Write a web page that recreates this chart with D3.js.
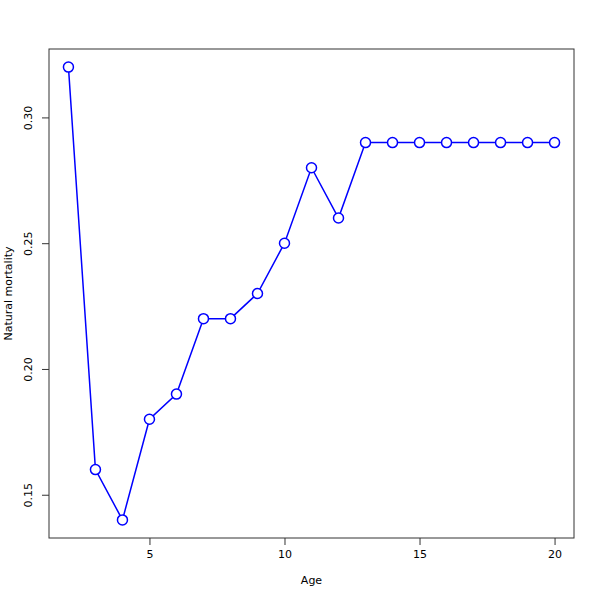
<!DOCTYPE html>
<html><head><meta charset="utf-8">
<script src="https://cdn.jsdelivr.net/npm/d3@7/dist/d3.min.js"></script>
<style>body{margin:0;background:#fff}svg{display:block}text{font-family:"DejaVu Sans",sans-serif;font-size:11px;fill:#000}</style>
</head><body>
<script>
const ages = [2,3,4,5,6,7,8,9,10,11,12,13,14,15,16,17,18,19,20];
const mortality = [0.32,0.16,0.14,0.18,0.19,0.22,0.22,0.23,0.25,0.28,0.26,0.29,0.29,0.29,0.29,0.29,0.29,0.29,0.29];
const xTicks = [5,10,15,20];
const yTicks = [0.15,0.20,0.25,0.30];

const W=600,H=600, L=49, R=574, T=49, B=538;
const svg=d3.select("body").append("svg").attr("width",W).attr("height",H);
const xr=[d3.min(ages),d3.max(ages)], xe=(xr[1]-xr[0])*0.04;
const yr=[d3.min(mortality),d3.max(mortality)], ye=(yr[1]-yr[0])*0.04;
const x=d3.scaleLinear().domain([xr[0]-xe,xr[1]+xe]).range([L,R]);
const y=d3.scaleLinear().domain([yr[0]-ye,yr[1]+ye]).range([B,T]);

const xAxis=svg.append("g").attr("transform",`translate(0,${B})`)
  .call(d3.axisBottom(x).tickValues(xTicks).tickFormat(d3.format("d")).tickSize(7).tickPadding(5).tickSizeOuter(0));
xAxis.select(".domain").remove();
const yAxis=svg.append("g").attr("transform",`translate(${L},0)`)
  .call(d3.axisLeft(y).tickValues(yTicks).tickFormat(d3.format(".2f")).tickSize(7).tickSizeOuter(0));
yAxis.select(".domain").remove();
yAxis.selectAll(".tick text").attr("transform","rotate(-90)").attr("x",0).attr("y",-17).attr("dy","0").attr("text-anchor","middle");
svg.selectAll(".tick line").attr("stroke","#333");
svg.selectAll(".tick text").style("font-size","11px").style("font-family","DejaVu Sans");

svg.append("rect").attr("x",L).attr("y",T).attr("width",R-L).attr("height",B-T)
  .attr("fill","none").attr("stroke","#333").attr("stroke-width",1);

const line=d3.line().x((d,i)=>x(ages[i])).y(d=>y(d));
svg.append("path").datum(mortality).attr("d",line).attr("fill","none").attr("stroke","#0000ff").attr("stroke-width",1.5);
svg.selectAll("circle.pt").data(mortality).enter().append("circle")
  .attr("cx",(d,i)=>x(ages[i])).attr("cy",d=>y(d)).attr("r",5)
  .attr("fill","#fff").attr("stroke","#0000ff").attr("stroke-width",1.5);

svg.append("text").attr("x",(L+R)/2).attr("y",584).attr("text-anchor","middle").text("Age");
svg.append("text").attr("transform",`translate(12,${(T+B)/2}) rotate(-90)`).attr("text-anchor","middle").text("Natural mortality");
</script>
</body></html>
